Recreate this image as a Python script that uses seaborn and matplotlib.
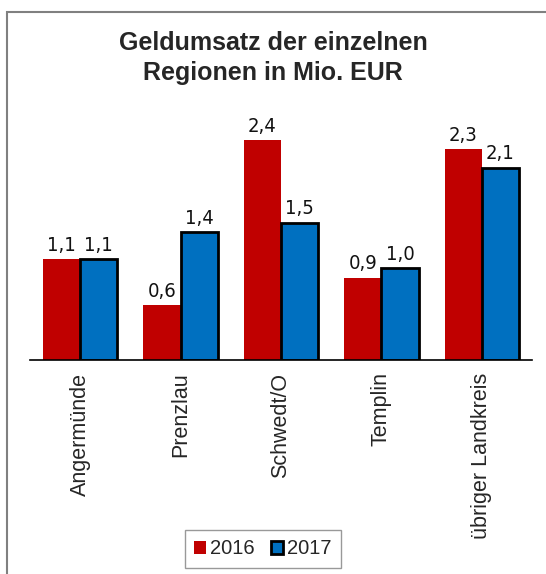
import matplotlib
matplotlib.use("Agg")
import matplotlib.pyplot as plt
import seaborn as sns
import pandas as pd
from matplotlib.patches import Rectangle, Patch
from matplotlib.ticker import FixedLocator

regions = ["Angermünde", "Prenzlau", "Schwedt/O", "Templin", "übriger Landkreis"]
years = ["2016", "2017"]
values_2016 = [1.1, 0.6, 2.4, 0.9, 2.3]
values_2017 = [1.1, 1.4, 1.5, 1.0, 2.1]
colors = {"2016": "#C00000", "2017": "#0070C0"}

df = pd.DataFrame({
    "Region": regions * 2,
    "Jahr": ["2016"] * len(regions) + ["2017"] * len(regions),
    "Wert": values_2016 + values_2017,
})

sns.set_style("white")
plt.rcParams['font.family'] = ['Liberation Sans', 'DejaVu Sans']

fig = plt.figure(figsize=(5.46, 5.74), dpi=100)
ax = fig.add_axes([30/546, 1-360/574, 502/546, 229/574])

sns.barplot(data=df, x="Region", y="Wert", hue="Jahr", order=regions,
            hue_order=years, palette=colors, width=0.74, gap=0,
            legend=False, ax=ax, saturation=1)

for cont, yr in zip(ax.containers, years):
    for bar in cont:
        if yr == "2017":
            bar.set_edgecolor("black")
            bar.set_linewidth(2)
        else:
            bar.set_edgecolor("none")
            bar.set_linewidth(0)
    ax.bar_label(cont, labels=[f"{v:.1f}".replace(".", ",") for v in cont.datavalues],
                 padding=3, fontsize=14.5, fontfamily="DejaVu Sans",
                 fontstretch="condensed", color="#111111")

ax.set_xlim(-0.5, 4.5)
ax.set_ylim(0, 2.5)
ax.set_yticks([])
ax.set_xlabel("")
ax.set_ylabel("")
for s in ["top", "right", "left"]:
    ax.spines[s].set_visible(False)
ax.spines["bottom"].set_color("black")
ax.spines["bottom"].set_linewidth(1.2)

ax.set_xticks(range(len(regions)))
ax.set_xticklabels(regions, rotation=90, fontsize=15.5, va="top", ha="center")
ax.tick_params(axis="x", which="major", length=0, pad=9)
ax.xaxis.set_minor_locator(FixedLocator([i - 0.5 for i in range(len(regions) + 1)]))
ax.tick_params(axis="x", which="minor", length=5, width=1, color="#808080", direction="out")

fig.text(0.5, 1-58/574, "Geldumsatz der einzelnen\nRegionen in Mio. EUR",
         ha="center", va="center", fontsize=18, fontweight="bold", linespacing=1.3)

handles = [Patch(facecolor=colors["2016"], edgecolor="none"),
           Patch(facecolor=colors["2017"], edgecolor="black", linewidth=2)]
leg = fig.legend(handles, years, loc="center", bbox_to_anchor=(263/546, 1-549/574),
                 ncol=2, fontsize=14.5, frameon=True, fancybox=False,
                 handlelength=0.6, handleheight=0.6, handletextpad=0.2,
                 columnspacing=0.8, borderpad=0.45, edgecolor="#808080")
leg.get_frame().set_linewidth(1)

fig.patches.append(Rectangle((7/546, -0.1), 1.2, 1 - 12/574 + 0.1,
                             transform=fig.transFigure, fill=False,
                             edgecolor="#808080", linewidth=1.5))

fig.savefig("out.png", dpi=100, facecolor="white")
